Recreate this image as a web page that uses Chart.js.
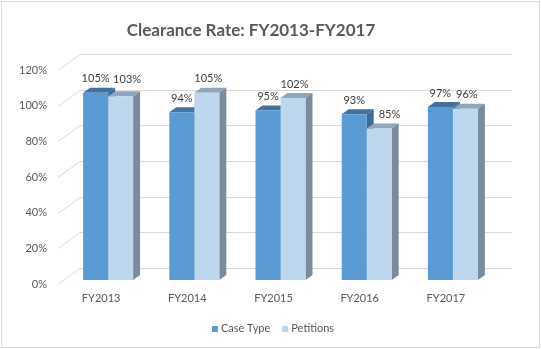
<!DOCTYPE html>
<html><head><meta charset="utf-8">
<script src="https://cdn.jsdelivr.net/npm/chart.js@4.4.1/dist/chart.umd.min.js"></script>
<style>html,body{margin:0;padding:0;background:#fff;}#wrap{width:541px;height:349px;position:relative;}</style>
</head><body><div id="wrap"><canvas id="c" width="541" height="349"></canvas></div>
<script>
const categories = ['FY2013', 'FY2014', 'FY2015', 'FY2016', 'FY2017'];
const caseType = [1.05, 0.94, 0.95, 0.93, 0.97];
const petitions = [1.03, 1.05, 1.02, 0.85, 0.96];
const yTicks = [0, 0.2, 0.4, 0.6, 0.8, 1.0, 1.2];
const seriesNames = ['Case Type', 'Petitions'];
const chartTitle = 'Clearance Rate: FY2013-FY2017';

const FONT = 'Lato, "Open Sans", sans-serif';
const faces = [
  {front: '#5B9BD5', top: '#41719C', side: '#3D6A93'},
  {front: '#BDD7EE', top: '#8FA5BA', side: '#7B8B9B'}
];
const DX = 7, DY = 5;
const pct = v => Math.round(v * 100) + '%';

function poly(ctx, pts) {
  ctx.beginPath();
  ctx.moveTo(pts[0][0], pts[0][1]);
  for (let k = 1; k < pts.length; k++) ctx.lineTo(pts[k][0], pts[k][1]);
  ctx.closePath();
  ctx.fill();
}
function barBox(chart, i, j) {
  const b = chart.getDatasetMeta(i).data[j].getProps(['x', 'y', 'base', 'width'], true);
  return {x: b.x, l: b.x - b.width / 2, r: b.x + b.width / 2, t: b.y, bo: b.base};
}

const bars3d = {
  id: 'bars3d',
  beforeDatasetsDraw(chart) {
    const ctx = chart.ctx, y = chart.scales.y;
    ctx.save();
    ctx.strokeStyle = '#d9d9d9';
    ctx.lineWidth = 1;
    yTicks.forEach(v => {
      const p = y.getPixelForValue(v);
      const fy = Math.round(p + 4) + 0.5, by = Math.round(p - 12) + 0.5;
      ctx.beginPath();
      ctx.moveTo(58, fy);
      ctx.lineTo(80, by);
      ctx.lineTo(512, by);
      ctx.stroke();
    });
    for (let j = 0; j < categories.length; j++) {
      chart.data.datasets.forEach((ds, i) => {
        const b = barBox(chart, i, j);
        ctx.fillStyle = faces[i].top;
        poly(ctx, [[b.l, b.t], [b.l + DX, b.t - DY], [b.r + DX, b.t - DY], [b.r, b.t]]);
        ctx.fillStyle = faces[i].side;
        poly(ctx, [[b.r, b.t], [b.r + DX, b.t - DY], [b.r + DX, b.bo - DY], [b.r, b.bo]]);
      });
    }
    ctx.restore();
  },
  afterDatasetsDraw(chart) {
    const ctx = chart.ctx;
    ctx.save();
    ctx.font = '11px ' + FONT;
    ctx.fillStyle = '#404040';
    ctx.textAlign = 'center';
    ctx.textBaseline = 'middle';
    for (let j = 0; j < categories.length; j++) {
      const d = barBox(chart, 0, j), p = barBox(chart, 1, j);
      const tD = pct(caseType[j]), tP = pct(petitions[j]);
      ctx.fillText(tD, d.x, d.t - 14);
      const w = ctx.measureText(tP).width, h = 11;
      let cx = p.x + 1.5, cy = p.t - 14;
      const obsTop = d.t - DY, obsL = d.r, obsR = d.r + DX;
      if (cx + w / 2 > obsL && cx - w / 2 < obsR && cy + h / 2 > obsTop) {
        const need = cy + h / 2 - obsTop;
        if (need < 3) { cy -= need + 2.5; cx += 5; }
        else { cx = obsR + 5 + w / 2; }
      }
      ctx.fillText(tP, cx, cy);
    }
    ctx.restore();
  },
  afterDraw(chart) {
    const ctx = chart.ctx;
    ctx.save();
    // title
    ctx.font = 'bold 17px ' + FONT;
    ctx.fillStyle = '#595959';
    ctx.textAlign = 'center';
    ctx.textBaseline = 'middle';
    ctx.fillText(chartTitle, 251, 31);
    // legend
    ctx.font = '11px ' + FONT;
    const box = 6, gap = 3, itemGap = 12;
    const widths = seriesNames.map(s => ctx.measureText(s).width);
    const total = widths.reduce((a, b) => a + b, 0) + seriesNames.length * (box + gap) + itemGap * (seriesNames.length - 1);
    let x = 273 - total / 2;
    const ly = 328;
    ctx.textAlign = 'left';
    seriesNames.forEach((s, i) => {
      ctx.fillStyle = faces[i].front;
      ctx.fillRect(x, ly - 2, box, box);
      x += box + gap;
      ctx.fillStyle = '#595959';
      ctx.fillText(s, x, ly);
      x += widths[i] + itemGap;
    });
    // border
    ctx.strokeStyle = '#d9d9d9';
    ctx.lineWidth = 1;
    ctx.strokeRect(1.5, 1.5, 538, 346);
    ctx.restore();
  }
};

new Chart(document.getElementById('c'), {
  type: 'bar',
  data: {
    labels: categories,
    datasets: [
      {label: seriesNames[0], data: caseType, backgroundColor: faces[0].front, borderWidth: 0},
      {label: seriesNames[1], data: petitions, backgroundColor: faces[1].front, borderWidth: 0}
    ]
  },
  options: {
    responsive: false,
    animation: false,
    devicePixelRatio: 1,
    layout: {padding: {top: 66, left: 0, right: 45, bottom: 39}},
    datasets: {bar: {categoryPercentage: 0.58, barPercentage: 1.0}},
    plugins: {legend: {display: false}, title: {display: false}, tooltip: {enabled: false}},
    scales: {
      x: {
        grid: {display: false, drawTicks: false},
        border: {display: false},
        ticks: {color: '#595959', font: {family: FONT, size: 11}, labelOffset: -7, padding: 12, maxRotation: 0},
        afterFit: s => { s.height = 30; }
      },
      y: {
        min: 0, max: 1.2,
        grid: {display: false, drawTicks: false},
        border: {display: false},
        afterBuildTicks: s => { s.ticks = yTicks.map(v => ({value: v})); },
        ticks: {color: '#595959', font: {family: FONT, size: 11}, padding: 18, labelOffset: 4, callback: v => pct(v)},
        afterFit: s => { s.width = 65; }
      }
    }
  },
  plugins: [bars3d]
});
</script>
</body></html>
